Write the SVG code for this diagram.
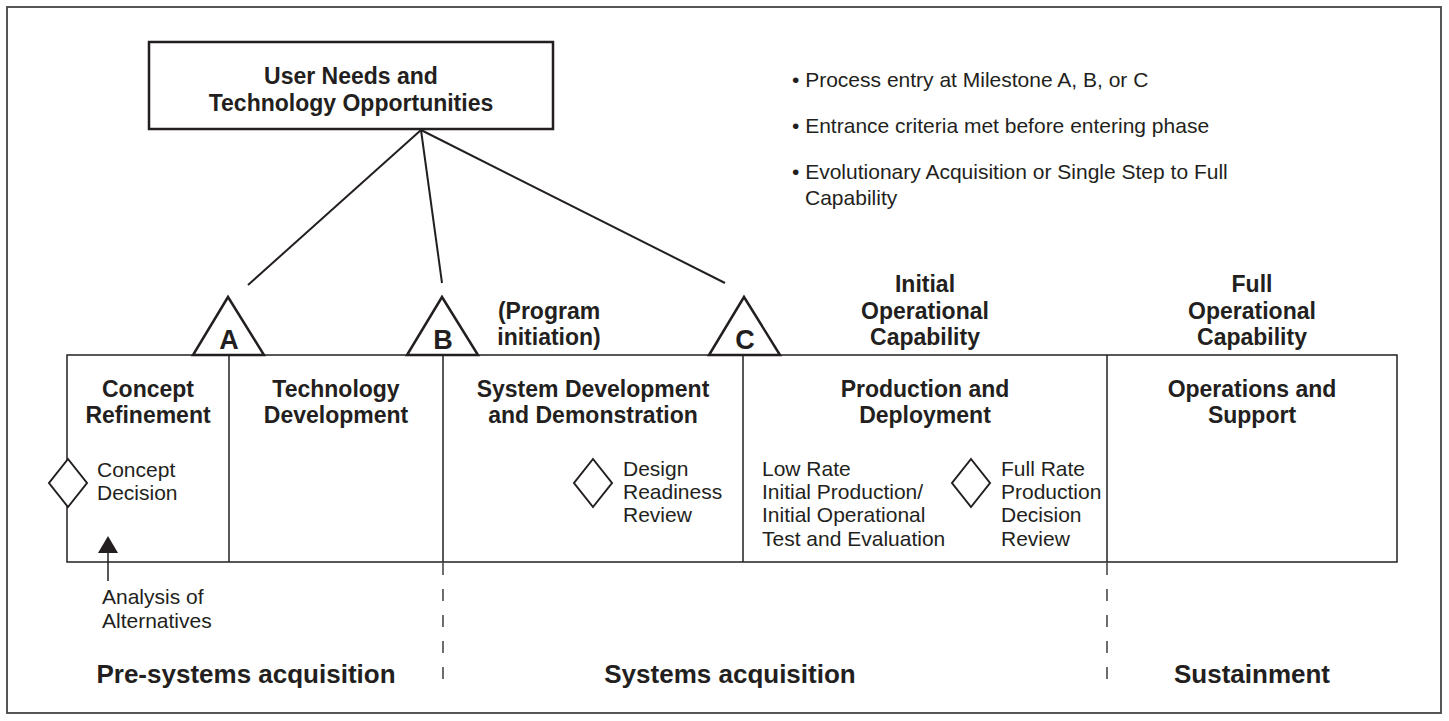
<svg xmlns="http://www.w3.org/2000/svg" width="1449" height="721" viewBox="0 0 1449 721">
  <style>
    text { font-family: "Liberation Sans", Arial, sans-serif; fill: #231f20; }
    .title { font-size: 23px; font-weight: bold; text-anchor: middle; }
    .phase { font-size: 23px; font-weight: bold; text-anchor: middle; }
    .reg { font-size: 21px; }
    .big { font-size: 26px; font-weight: bold; text-anchor: middle; }
    .ms { font-size: 27px; font-weight: bold; text-anchor: middle; }
    .line { stroke: #231f20; stroke-width: 2; fill: none; }
    .thin { stroke: #231f20; stroke-width: 1.5; fill: none; }
    .tri { stroke: #231f20; stroke-width: 2.5; fill: #fff; stroke-linejoin: miter; }
    .dia { stroke: #231f20; stroke-width: 2; fill: #fff; }
    .dash { stroke: #231f20; stroke-width: 1.3; stroke-dasharray: 12 14; fill: none; }
  </style>
  <rect x="0" y="0" width="1449" height="721" fill="#fff"/>
  <rect x="7" y="7" width="1434" height="706" fill="none" stroke="#444" stroke-width="1.8"/>

  <g id="connectors">
    <line class="line" x1="421" y1="130" x2="248" y2="285"/>
    <line class="line" x1="421" y1="130" x2="442" y2="283"/>
    <line class="line" x1="421" y1="130" x2="725" y2="283"/>
    <line class="thin" x1="108" y1="581" x2="108" y2="550"/>
    <polygon points="108,536 98,553 118,553" fill="#231f20"/>
    <line class="dash" x1="443" y1="563" x2="443" y2="690"/>
    <line class="dash" x1="1107" y1="563" x2="1107" y2="690"/>
  </g>

  <g id="needs">
    <rect x="149" y="42" width="404" height="87" fill="#fff" stroke="#231f20" stroke-width="2.5"/>
    <text class="title" x="351" y="84">User Needs and</text>
    <text class="title" x="351" y="111">Technology Opportunities</text>
  </g>

  <g id="notes">
    <text class="reg" x="792" y="87">• Process entry at Milestone A, B, or C</text>
    <text class="reg" x="792" y="133">• Entrance criteria met before entering phase</text>
    <text class="reg" x="792" y="179">• Evolutionary Acquisition or Single Step to Full</text>
    <text class="reg" x="805" y="205">Capability</text>
  </g>

  <g id="phases">
    <rect x="67" y="355" width="1330" height="207" fill="none" stroke="#231f20" stroke-width="1.5"/>
    <line class="thin" x1="229" y1="355" x2="229" y2="562"/>
    <line class="thin" x1="443" y1="355" x2="443" y2="562"/>
    <line class="thin" x1="743" y1="355" x2="743" y2="562"/>
    <line class="thin" x1="1107" y1="355" x2="1107" y2="562"/>
  </g>

  <g id="concept-refinement">
    <text class="phase" x="148" y="397">Concept</text>
    <text class="phase" x="148" y="423">Refinement</text>
  </g>
  <g id="technology-development">
    <text class="phase" x="336" y="397">Technology</text>
    <text class="phase" x="336" y="423">Development</text>
  </g>
  <g id="sdd">
    <text class="phase" x="593" y="397">System Development</text>
    <text class="phase" x="593" y="423">and Demonstration</text>
  </g>
  <g id="production">
    <text class="phase" x="925" y="397">Production and</text>
    <text class="phase" x="925" y="423">Deployment</text>
  </g>
  <g id="operations">
    <text class="phase" x="1252" y="397">Operations and</text>
    <text class="phase" x="1252" y="423">Support</text>
  </g>

  <g id="milestone-a">
    <polygon class="tri" points="228,297 193,355 264,355"/>
    <text class="ms" x="229" y="349">A</text>
  </g>
  <g id="milestone-b">
    <polygon class="tri" points="442,297 407,355 478,355"/>
    <text class="ms" x="443" y="349">B</text>
  </g>
  <g id="milestone-c">
    <polygon class="tri" points="744,297 709,355 780,355"/>
    <text class="ms" x="745" y="349">C</text>
  </g>

  <g id="program-initiation">
    <text class="phase" x="549" y="319">(Program</text>
    <text class="phase" x="549" y="345">initiation)</text>
  </g>
  <g id="ioc">
    <text class="phase" x="925" y="292">Initial</text>
    <text class="phase" x="925" y="319">Operational</text>
    <text class="phase" x="925" y="345">Capability</text>
  </g>
  <g id="foc">
    <text class="phase" x="1252" y="292">Full</text>
    <text class="phase" x="1252" y="319">Operational</text>
    <text class="phase" x="1252" y="345">Capability</text>
  </g>

  <g id="concept-decision">
    <polygon class="dia" points="68,459 87,483 68,507 49,483"/>
    <text class="reg" x="97" y="477">Concept</text>
    <text class="reg" x="97" y="500">Decision</text>
  </g>
  <g id="aoa">
    <text class="reg" x="102" y="604">Analysis of</text>
    <text class="reg" x="102" y="628">Alternatives</text>
  </g>
  <g id="design-readiness">
    <polygon class="dia" points="593,459 612,483 593,507 574,483"/>
    <text class="reg" x="623" y="476">Design</text>
    <text class="reg" x="623" y="499">Readiness</text>
    <text class="reg" x="623" y="522">Review</text>
  </g>
  <g id="lrip">
    <text class="reg" x="762" y="476">Low Rate</text>
    <text class="reg" x="762" y="499">Initial Production/</text>
    <text class="reg" x="762" y="522">Initial Operational</text>
    <text class="reg" x="762" y="546">Test and Evaluation</text>
  </g>
  <g id="full-rate">
    <polygon class="dia" points="971,459 990,483 971,507 952,483"/>
    <text class="reg" x="1001" y="476">Full Rate</text>
    <text class="reg" x="1001" y="499">Production</text>
    <text class="reg" x="1001" y="522">Decision</text>
    <text class="reg" x="1001" y="546">Review</text>
  </g>

  <g id="stages">
    <text class="big" x="246" y="683">Pre-systems acquisition</text>
    <text class="big" x="730" y="683">Systems acquisition</text>
    <text class="big" x="1252" y="683">Sustainment</text>
  </g>
</svg>
